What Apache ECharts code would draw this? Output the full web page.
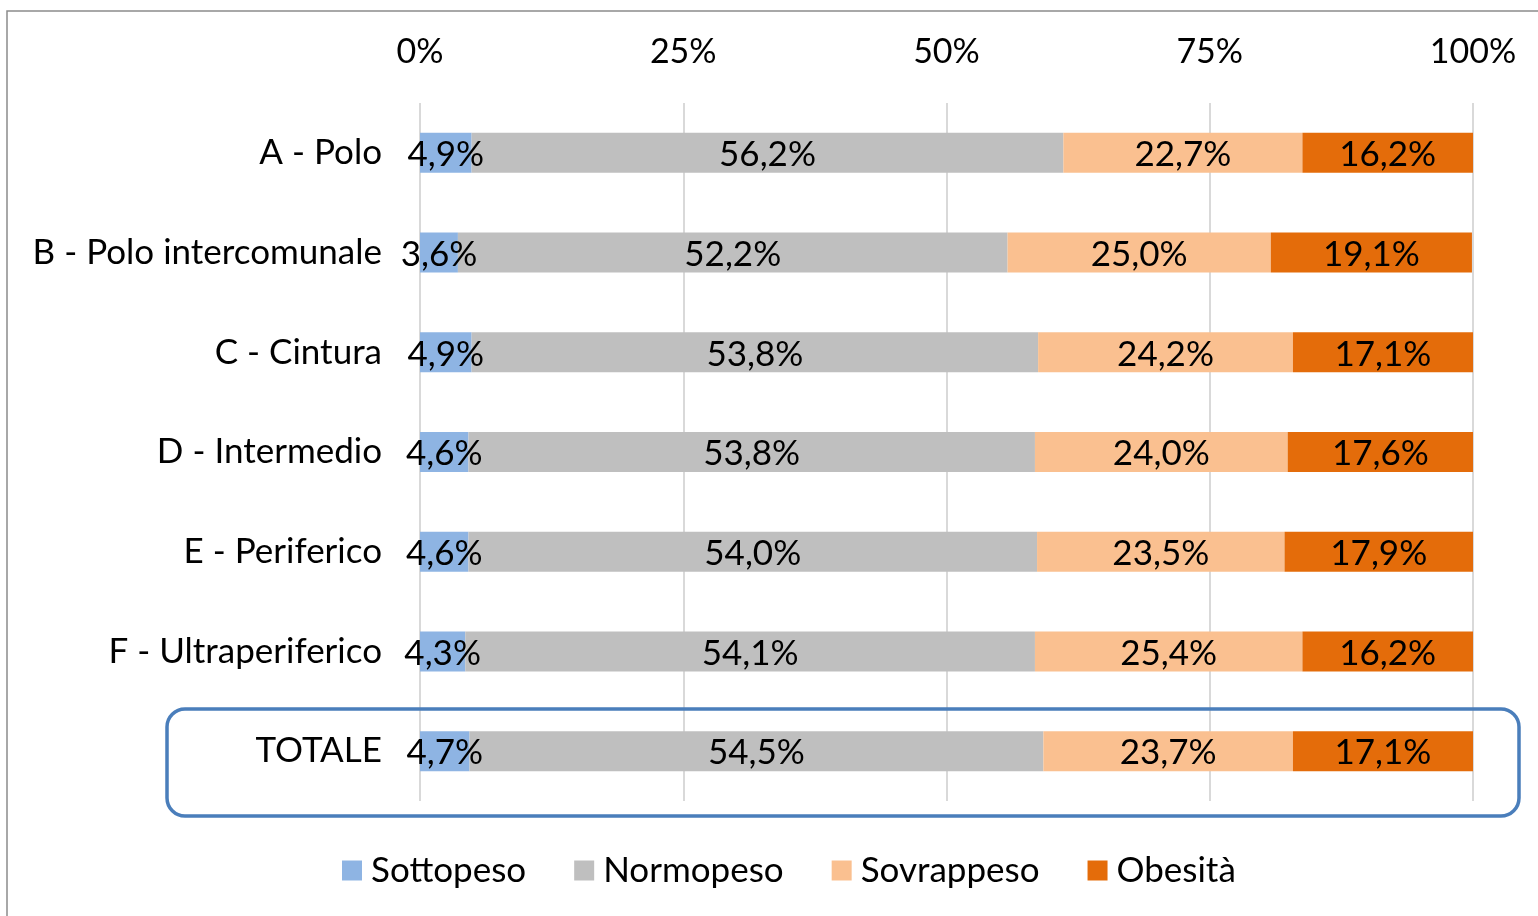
<!DOCTYPE html>
<html>
<head>
<meta charset="utf-8">
<title>Stato ponderale per area</title>
<script src="https://cdn.jsdelivr.net/npm/echarts@6/dist/echarts.min.js"></script>
<style>
  html, body { margin: 0; padding: 0; background: #fff; }
  #chart { width: 1538px; height: 916px; }
</style>
</head>
<body>
<div id="chart"></div>
<script>
// categorie (dall'alto verso il basso)
const categories = ['A - Polo', 'B - Polo intercomunale', 'C - Cintura', 'D - Intermedio',
  'E - Periferico', 'F - Ultraperiferico', 'TOTALE']
const sottopeso = [4.9, 3.6, 4.9, 4.6, 4.6, 4.3, 4.7]
const normopeso = [56.2, 52.2, 53.8, 53.8, 54.0, 54.1, 54.5]
const sovrappeso = [22.7, 25.0, 24.2, 24.0, 23.5, 25.4, 23.7]
const obesita = [16.2, 19.1, 17.1, 17.6, 17.9, 16.2, 17.1]
const seriesNames = ['Sottopeso', 'Normopeso', 'Sovrappeso', 'Obesità']
const colors = ['#8eb4e3', '#bfbfbf', '#fac090', '#e46c0a']

const font = 'Lato, "Open Sans", sans-serif'
const pct = v => v.toFixed(1).replace('.', ',') + '%'

const chart = echarts.init(document.getElementById('chart'))

const series = [sottopeso, normopeso, sovrappeso, obesita].map((data, i) => ({
  name: seriesNames[i],
  type: 'bar',
  stack: 'tot',
  barWidth: 40,
  data: data,
  itemStyle: { color: colors[i] },
  label: {
    show: true,
    position: 'inside',
    offset: [0, 2],
    color: '#000',
    fontFamily: font,
    fontSize: 35,
    formatter: p => pct(p.value)
  },
  emphasis: { disabled: true }
}))

chart.setOption({
  animation: false,
  backgroundColor: '#fff',
  textStyle: { fontFamily: font },
  grid: { left: 420, right: 65, top: 103, height: 698, containLabel: false },
  xAxis: {
    type: 'value',
    position: 'top',
    min: 0,
    max: 100,
    interval: 25,
    axisLine: { show: false },
    axisTick: { show: false },
    axisLabel: {
      color: '#000',
      fontSize: 34,
      margin: 34,
      formatter: v => v + '%'
    },
    splitLine: { lineStyle: { color: '#d9d9d9', width: 2 } }
  },
  yAxis: {
    type: 'category',
    inverse: true,
    data: categories,
    axisLine: { show: false },
    axisTick: { show: false },
    axisLabel: { color: '#000', fontSize: 35, margin: 38 }
  },
  legend: {
    bottom: 23,
    left: 337,
    itemWidth: 20,
    itemHeight: 20,
    itemGap: 48,
    icon: 'rect',
    textStyle: { color: '#000', fontSize: 35, fontFamily: font, padding: [0, 0, 0, 4] }
  },
  series: series,
  graphic: [
    {
      type: 'rect',
      shape: { x: 7, y: 11, width: 1560, height: 950 },
      style: { fill: 'none', stroke: '#8c8c8c', lineWidth: 1.5 },
      silent: true
    },
    {
      type: 'rect',
      shape: { x: 167, y: 709, width: 1352, height: 107, r: 18 },
      style: { fill: 'none', stroke: '#4a7ebb', lineWidth: 3.5 },
      silent: true,
      z: 10
    }
  ]
})
</script>
</body>
</html>
